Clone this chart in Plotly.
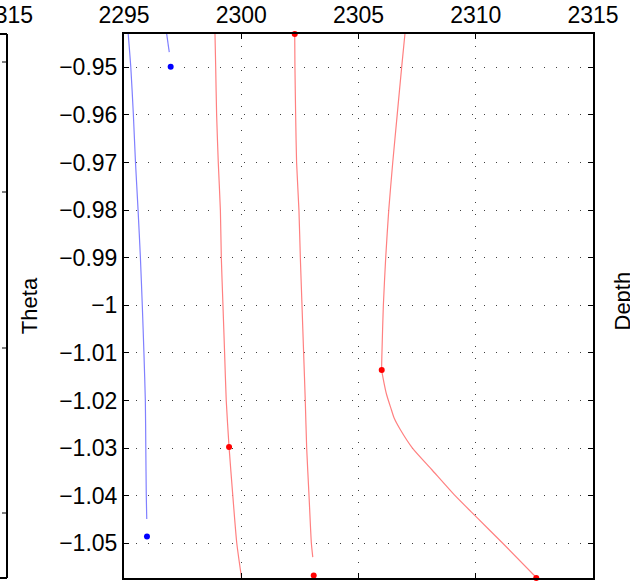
import plotly.graph_objects as go

# --- data ---
red1_x = [2298.88, 2298.91, 2298.95, 2299.02, 2299.11, 2299.15, 2299.22, 2299.29, 2299.36, 2299.48, 2299.64, 2299.81, 2300.02]
red1_y = [-0.943, -0.95, -0.96, -0.97, -0.98, -0.99, -1.00, -1.01, -1.02, -1.0298, -1.04, -1.05, -1.0575]

red2_x = [2302.28, 2302.29, 2302.32, 2302.36, 2302.46, 2302.52, 2302.59, 2302.66, 2302.73, 2302.79, 2302.89, 2302.99, 2303.05]
red2_y = [-0.943, -0.95, -0.96, -0.97, -0.98, -0.99, -1.00, -1.01, -1.02, -1.03, -1.04, -1.05, -1.0529]

red3_x = [2306.98, 2306.84, 2306.65, 2306.46, 2306.29, 2306.16, 2306.06, 2306.00, 2305.99, 2306.06, 2306.20,
          2306.38, 2306.52, 2306.78, 2307.30, 2308.12, 2309.12, 2309.99, 2311.13, 2312.60]
red3_y = [-0.943, -0.95, -0.96, -0.97, -0.98, -0.99, -1.00, -1.01, -1.0136, -1.0156, -1.0188,
          -1.0216, -1.0237, -1.0261, -1.03, -1.0345, -1.04, -1.0443, -1.0499, -1.0573]

blue1_x = [2295.18, 2295.29, 2295.40, 2295.49, 2295.60, 2295.70, 2295.78, 2295.85, 2295.91, 2295.93, 2295.95, 2295.97]
blue1_y = [-0.943, -0.95, -0.96, -0.97, -0.98, -0.99, -1.00, -1.01, -1.02, -1.03, -1.04, -1.0449]

blue2_x = [2296.82, 2296.93]
blue2_y = [-0.943, -0.9468]

red_dot_x = [2302.28, 2299.48, 2305.99, 2303.09, 2312.58]
red_dot_y = [-0.943, -1.0298, -1.0136, -1.0568, -1.0573]

blue_dot_x = [2296.99, 2295.98]
blue_dot_y = [-0.9499, -1.0486]

x_ticks = [2295, 2300, 2305, 2310, 2315]
y_ticks = [-0.95, -0.96, -0.97, -0.98, -0.99, -1.0, -1.01, -1.02, -1.03, -1.04, -1.05]
y_labels = ['\u22120.95', '\u22120.96', '\u22120.97', '\u22120.98', '\u22120.99', '\u22121',
            '\u22121.01', '\u22121.02', '\u22121.03', '\u22121.04', '\u22121.05']

FONT = "Liberation Sans"
LINE_RED = "#FF8080"
LINE_BLUE = "#8080FF"

fig = go.Figure()

#--- curves
for xs, ys, col in [(blue1_x, blue1_y, LINE_BLUE), (blue2_x, blue2_y, LINE_BLUE),
                    (red1_x, red1_y, LINE_RED), (red2_x, red2_y, LINE_RED),
                    (red3_x, red3_y, LINE_RED)]:
    fig.add_trace(go.Scatter(x=xs, y=ys, mode="lines",
                             line=dict(color=col, width=1.2, shape="spline", smoothing=0.6)))

#--- dots
fig.add_trace(go.Scatter(x=blue_dot_x, y=blue_dot_y, mode="markers", cliponaxis=False,
                         marker=dict(color="#0000FF", size=6, line=dict(width=0))))
fig.add_trace(go.Scatter(x=red_dot_x, y=red_dot_y, mode="markers", cliponaxis=False,
                         marker=dict(color="#FF0000", size=6, line=dict(width=0))))

#--- axes
common = dict(showline=True, linecolor="black", linewidth=2, mirror="ticks",
              ticks="inside", ticklen=5, tickwidth=1, tickcolor="black",
              showgrid=True, gridcolor="#404040", gridwidth=1, griddash="1px,11px",
              zeroline=False, automargin=False,
              tickfont=dict(family=FONT, size=23, color="black"))
fig.update_xaxes(common, side="top", range=[2295, 2315], tickvals=x_ticks,
                 ticktext=[str(v) for v in x_ticks])
fig.update_yaxes(common, range=[-1.0573, -0.943], tickvals=y_ticks, ticktext=y_labels,
                 title=dict(text="Theta", font=dict(family=FONT, size=22, color="black"), standoff=15))

#--- pieces of the neighbouring panels (pixels -> paper)
L = 124
W = 469
H = 544
def px(x):
    return (x - L) / W
def py(y):
    return (578 - y) / H

shapes = [
    dict(type="line", xref="paper", yref="paper", x0=px(7), x1=px(7), y0=py(578), y1=py(34),
         line=dict(color="black", width=2)),
    dict(type="line", xref="paper", yref="paper", x0=px(-2), x1=px(7), y0=py(34), y1=py(34),
         line=dict(color="black", width=2)),
    dict(type="line", xref="paper", yref="paper", x0=px(-2), x1=px(7), y0=py(578), y1=py(578),
         line=dict(color="black", width=2)),
]
for ty in [62, 192, 348, 513]:
    shapes.append(dict(type="line", xref="paper", yref="paper", x0=px(2), x1=px(7),
                       y0=py(ty), y1=py(ty), line=dict(color="black", width=1)))
fig.update_layout(shapes=shapes)

fig.add_annotation(text="2315", xref="paper", yref="paper", x=px(7), y=1, xanchor="center",
                   yanchor="bottom", yshift=4, showarrow=False,
                   font=dict(family=FONT, size=23, color="black"))
fig.add_annotation(text="Depth", xref="paper", yref="paper", x=px(607), y=py(301), xanchor="left",
                   yanchor="middle", textangle=-90, showarrow=False,
                   font=dict(family=FONT, size=22, color="black"))

fig.update_layout(width=630, height=586, margin=dict(l=124, r=37, t=34, b=8),
                  plot_bgcolor="white", paper_bgcolor="white", showlegend=False)

# drop the browser's default 8px body margin so the figure sits at the page corner
fig.write_html("out.html", config={"displayModeBar": False},
               post_script="document.body.style.margin='0';")
